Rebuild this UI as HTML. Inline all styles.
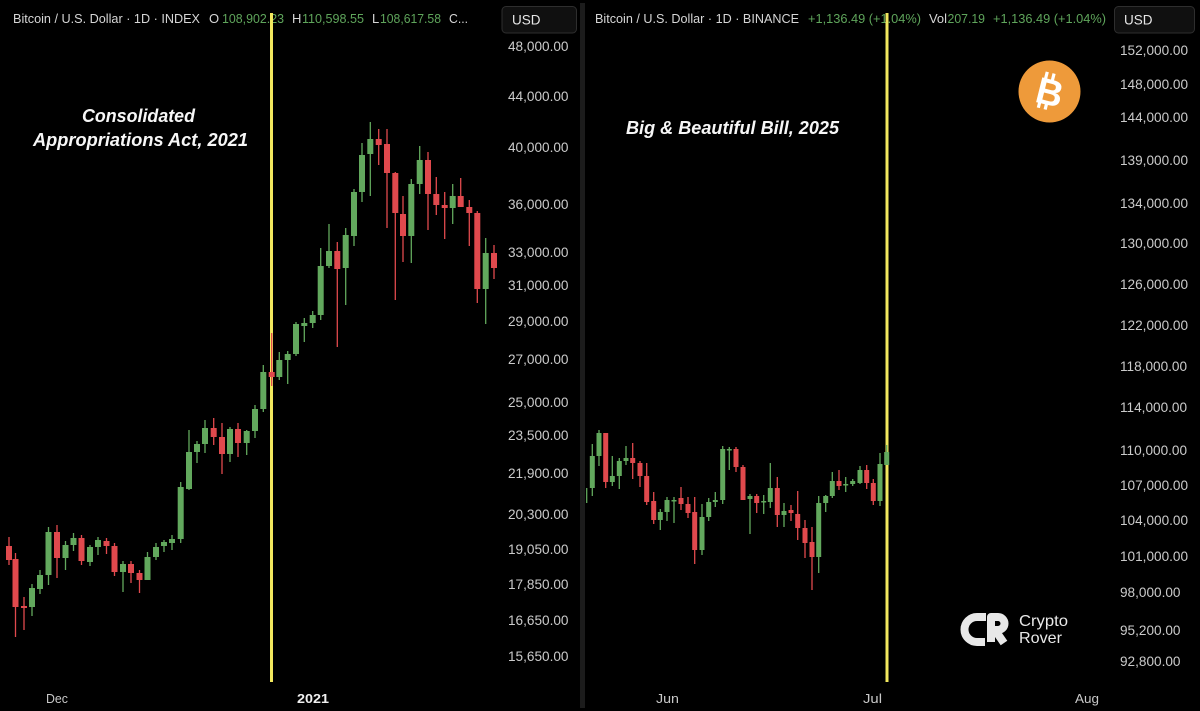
<!DOCTYPE html>
<html><head><meta charset="utf-8"><style>
html,body{margin:0;padding:0;background:#000;}
svg{display:block;}
text{font-family:"Liberation Sans",sans-serif;}
</style></head><body>
<svg width="1200" height="711" viewBox="0 0 1200 711" xmlns="http://www.w3.org/2000/svg">
<rect x="0" y="0" width="1200" height="711" fill="#000"/>
<!-- divider -->
<rect x="580" y="3" width="5" height="705" fill="#1c1c1c"/>

<!-- headers -->
<g font-size="13" fill="#d6d6d6">
<text x="13" y="23" textLength="187" lengthAdjust="spacingAndGlyphs">Bitcoin / U.S. Dollar · 1D · INDEX</text>
<text x="209" y="23">O</text>
<text x="222" y="23" fill="#5fa55b" textLength="62" lengthAdjust="spacingAndGlyphs">108,902.23</text>
<text x="292" y="23">H</text>
<text x="302" y="23" fill="#5fa55b" textLength="62" lengthAdjust="spacingAndGlyphs">110,598.55</text>
<text x="372" y="23">L</text>
<text x="380" y="23" fill="#5fa55b" textLength="61" lengthAdjust="spacingAndGlyphs">108,617.58</text>
<text x="449" y="23" textLength="19" lengthAdjust="spacingAndGlyphs">C...</text>

<text x="595" y="23" textLength="204" lengthAdjust="spacingAndGlyphs">Bitcoin / U.S. Dollar · 1D · BINANCE</text>
<text x="808" y="23" fill="#5fa55b" textLength="113" lengthAdjust="spacingAndGlyphs">+1,136.49 (+1.04%)</text>
<text x="929" y="23" textLength="18" lengthAdjust="spacingAndGlyphs">Vol</text>
<text x="947.5" y="23" fill="#5fa55b" textLength="37.5" lengthAdjust="spacingAndGlyphs">207.19</text>
<text x="993" y="23" fill="#5fa55b" textLength="113" lengthAdjust="spacingAndGlyphs">+1,136.49 (+1.04%)</text>
</g>

<!-- USD boxes -->
<rect x="502" y="6.5" width="74.5" height="26.5" rx="4" fill="#101010" stroke="#2e2e2e"/>
<text x="512" y="24.5" font-size="13.5" fill="#e6e6e6">USD</text>
<rect x="1114.5" y="6.5" width="80" height="26.5" rx="4" fill="#101010" stroke="#2e2e2e"/>
<text x="1124" y="24.5" font-size="13.5" fill="#e6e6e6">USD</text>

<!-- left price axis -->
<g font-size="13.6" fill="#cbcbcb">
<text x="508" y="51">48,000.00</text>
<text x="508" y="101">44,000.00</text>
<text x="508" y="152">40,000.00</text>
<text x="508" y="209">36,000.00</text>
<text x="508" y="257">33,000.00</text>
<text x="508" y="290">31,000.00</text>
<text x="508" y="326">29,000.00</text>
<text x="508" y="364">27,000.00</text>
<text x="508" y="407">25,000.00</text>
<text x="508" y="440">23,500.00</text>
<text x="508" y="478">21,900.00</text>
<text x="508" y="519">20,300.00</text>
<text x="508" y="554">19,050.00</text>
<text x="508" y="589">17,850.00</text>
<text x="508" y="625">16,650.00</text>
<text x="508" y="661">15,650.00</text>
</g>
<!-- right price axis -->
<g font-size="13.6" fill="#cbcbcb">
<text x="1120" y="55">152,000.00</text>
<text x="1120" y="89">148,000.00</text>
<text x="1120" y="122">144,000.00</text>
<text x="1120" y="165">139,000.00</text>
<text x="1120" y="208">134,000.00</text>
<text x="1120" y="248">130,000.00</text>
<text x="1120" y="289">126,000.00</text>
<text x="1120" y="330">122,000.00</text>
<text x="1120" y="371">118,000.00</text>
<text x="1120" y="412">114,000.00</text>
<text x="1120" y="455">110,000.00</text>
<text x="1120" y="490">107,000.00</text>
<text x="1120" y="525">104,000.00</text>
<text x="1120" y="561">101,000.00</text>
<text x="1120" y="597">98,000.00</text>
<text x="1120" y="635">95,200.00</text>
<text x="1120" y="666">92,800.00</text>
</g>

<!-- x axis -->
<g font-size="13" fill="#c8c8c8">
<text x="46" y="703" textLength="22" lengthAdjust="spacingAndGlyphs">Dec</text>
<text x="297" y="703" font-weight="bold" fill="#f0f0f0" textLength="32" lengthAdjust="spacingAndGlyphs">2021</text>
<text x="656" y="703" textLength="23" lengthAdjust="spacingAndGlyphs">Jun</text>
<text x="863" y="703" textLength="19" lengthAdjust="spacingAndGlyphs">Jul</text>
<text x="1075" y="703" textLength="24" lengthAdjust="spacingAndGlyphs">Aug</text>
</g>

<!-- yellow lines -->
<rect x="270" y="13" width="3" height="669" fill="#f2e85e"/>
<rect x="885.5" y="13" width="3" height="669" fill="#f2e85e"/>

<!-- left candles -->
<g fill="none" stroke-linecap="butt">
<path stroke="#62a85d" stroke-width="1.3" d="M32 584V616 M40 570V594 M48.5 527V585 M65.5 541V570 M73.5 533V551 M90 545V566 M98 537V555 M123 561V592 M147.5 552V580 M156 543V560 M164 540V552 M172 535V550 M180.7 482V543 M189 430V490 M197 441V463 M205 420V453 M230 427V462 M246.7 430V455 M255 405V438 M263.3 365V412 M279.3 352V380 M287.7 351V384 M296 322V356 M304.3 318V342 M312.7 311V328 M320.7 248V320 M329 224V268 M345.7 228V305 M354 189V246 M362 143V202 M370.3 122V196 M411.3 179V263 M419.7 146V194 M452.7 184V224 M485.7 238V324"/>
<path stroke="#62a85d" stroke-width="6" d="M32 588V607 M40 575V589 M48.5 532V575 M65.5 545V558 M73.5 538V545 M90 547V562 M98 540V547 M123 564V572 M147.5 557V580 M156 547V557 M164 542V546 M172 539V543 M180.7 487V539 M189 452V489 M197 444V452 M205 428V444 M230 429V454 M246.7 431V443 M255 409V431 M263.3 372V409 M279.3 360V377 M287.7 354V360 M296 324V354 M304.3 323V326 M312.7 315V323 M320.7 266V315 M329 251V266 M345.7 235V268 M354 192V236 M362 155V192 M370.3 139V154 M411.3 184V236 M419.7 160V184 M452.7 196V208 M485.7 253V289"/>
<path stroke="#e0494d" stroke-width="1.3" d="M9 537V565 M15.5 553V637 M24 597V630 M57 525V578 M81.5 535V565 M106.5 538V554 M114.5 543V576 M131 561V583 M139.5 570V593 M213.7 418V445 M222 423V474 M238 423V457 M271.7 333V386 M337.3 242V347 M378.7 129V165 M387 129V228 M395.3 172V300 M403 196V262 M428 152V230 M436.3 177V215 M444.7 192V239 M460.7 178V207 M469.3 200V246 M477.3 211V303 M494 245V279"/>
<path stroke="#e0494d" stroke-width="6" d="M9 546V560 M15.5 559V607 M24 606V608 M57 532V558 M81.5 538V561 M106.5 541V546 M114.5 546V572 M131 564V573 M139.5 573V580 M213.7 428V437 M222 437V454 M238 429V443 M271.7 372V377 M337.3 251V269 M378.7 139V145 M387 144V173 M395.3 173V213 M403 214V236 M428 160V194 M436.3 194V205 M444.7 205V208 M460.7 196V207 M469.3 207V213 M477.3 213V289 M494 253V268"/>
</g>

<!-- right candles -->
<g fill="none" stroke-linecap="butt">
<path stroke="#62a85d" stroke-width="1.3" d="M586.7 488V503 M592.3 444V496 M599 430V466 M612.3 456V486 M619.3 458V489 M626 446V465 M660.3 509V530 M667 497V521 M674 497V523 M702 504V555 M708.7 498V521 M715.3 492V507 M722.7 446V504 M729.3 447V470 M750 494V534 M763.7 495V514 M770.3 463V508 M784 503V527 M818.7 496V573 M825.7 495V512 M832.3 472V498 M845.7 477V492 M852.7 479V486 M860 466V484 M880 453V506 M886.7 445V465"/>
<path stroke="#62a85d" stroke-width="5" d="M592.3 456V488 M599 433V456 M612.3 476V482 M619.3 461V476 M626 458V461 M660.3 512V520 M667 500V512 M674 500V501.5 M702 517V550 M708.7 502V517 M715.3 500V502 M722.7 449V500 M729.3 449V450.5 M750 496V499 M763.7 501V502.5 M770.3 488V502 M784 511V515 M818.7 503V557 M825.7 496V503 M832.3 481V496 M845.7 484V485.5 M852.7 481V484 M860 470V483 M880 464V501 M886.7 452V465"/>
<path stroke="#e0494d" stroke-width="1.3" d="M605.7 433V488 M632.7 443V479 M640 461V487 M646.7 463V505 M653.7 492V524 M681 487V510 M688 497V518 M694.7 497V564 M736 447V472 M743 465V500 M756.7 494V513 M777.3 477V527 M791 505V521 M797.7 491V540 M805 520V558 M812 527V590 M839 470V490 M866.7 465V489 M873.3 479V505"/>
<path stroke="#e0494d" stroke-width="5" d="M605.7 433V482 M632.7 458V463 M640 463V476 M646.7 476V502 M653.7 501V520 M681 498V504 M688 504V513 M694.7 512V550 M736 449V467 M743 467V500 M756.7 496V503 M777.3 488V515 M791 510V513 M797.7 514V528 M805 528V543 M812 542V557 M839 481V486 M866.7 470V483 M873.3 483V501"/>
</g>

<!-- annotations -->
<g font-size="18.5" font-weight="bold" font-style="italic" fill="#f7f7f7">
<text x="82" y="122" textLength="113" lengthAdjust="spacingAndGlyphs">Consolidated</text>
<text x="33" y="146" textLength="215" lengthAdjust="spacingAndGlyphs">Appropriations Act, 2021</text>
<text x="626" y="134" textLength="213" lengthAdjust="spacingAndGlyphs">Big &amp; Beautiful Bill, 2025</text>
</g>

<!-- bitcoin logo -->
<circle cx="1049.5" cy="91.5" r="31" fill="#ee9a3a"/>
<g transform="rotate(14 1049.5 91.5)" fill="#fff">
<text x="1050" y="105" font-size="37" font-weight="bold" text-anchor="middle">B</text>
<rect x="1041" y="73" width="3.2" height="7"/>
<rect x="1048" y="73" width="3.2" height="7"/>
<rect x="1041" y="103" width="3.2" height="7"/>
<rect x="1048" y="103" width="3.2" height="7"/>
</g>

<!-- Crypto Rover logo -->
<g fill="none" stroke="#e8e8e8" stroke-width="8" stroke-linejoin="round">
<path d="M986 617 H977 A12.5 12.5 0 0 0 977 642 H985"/>
<path d="M991 642 V617 H998 A6.5 6.5 0 0 1 998 630 H995 L1004 643"/>
</g>
<text x="1019" y="626" font-size="16" fill="#e8e8e8" textLength="49" lengthAdjust="spacingAndGlyphs">Crypto</text>
<text x="1019" y="643" font-size="16" fill="#e8e8e8" textLength="43" lengthAdjust="spacingAndGlyphs">Rover</text>
</svg>
</body></html>
